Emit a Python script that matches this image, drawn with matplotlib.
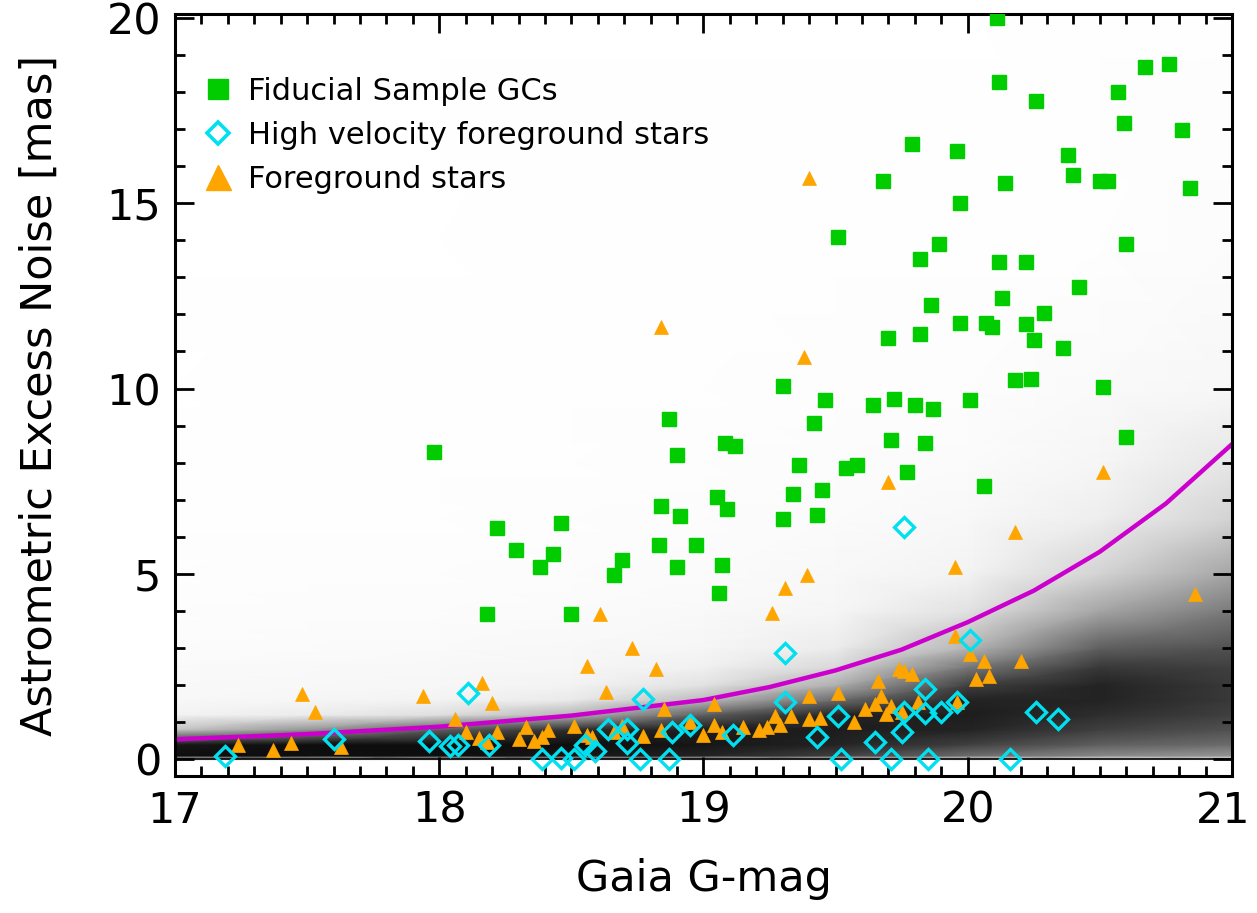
import numpy as np
import matplotlib.pyplot as plt
import matplotlib.transforms as mtransforms
from matplotlib.lines import Line2D

# Fiducial sample GCs (green squares)
gc_mag = [17.98, 18.18, 18.22, 18.29, 18.38, 18.43, 18.46, 18.50, 18.66, 18.69,
          18.83, 18.84, 18.87, 18.90, 18.91, 18.90, 18.97, 19.05, 19.06, 19.07,
          19.08, 19.12, 19.09, 19.30, 19.30, 19.34, 19.36, 19.42, 19.43, 19.45,
          19.46, 19.51, 19.54, 19.58, 19.64, 19.68, 19.70, 19.71, 19.72, 19.77,
          19.79, 19.80, 19.82, 19.82, 19.84, 19.86, 19.87, 19.89, 19.96, 19.97,
          19.97, 20.01, 20.06, 20.07, 20.09, 20.11, 20.12, 20.12, 20.13, 20.14,
          20.26, 20.22, 20.22, 20.25, 20.29, 20.18, 20.24, 20.36, 20.38, 20.40,
          20.42, 20.50, 20.53, 20.51, 20.57, 20.59, 20.60, 20.60, 20.67, 20.76,
          20.81, 20.84]
gc_noise = [8.28, 3.92, 6.24, 5.65, 5.19, 5.54, 6.37, 3.92, 4.97, 5.38,
            5.78, 6.83, 9.17, 8.20, 6.56, 5.20, 5.78, 7.07, 4.49, 5.24,
            8.53, 8.46, 6.75, 10.07, 6.47, 7.17, 7.95, 9.08, 6.60, 7.27,
            9.70, 14.10, 7.87, 7.95, 9.57, 15.60, 11.37, 8.60, 9.73, 7.76,
            16.60, 9.55, 13.50, 11.48, 8.53, 12.26, 9.45, 13.90, 16.40, 15.00,
            11.78, 9.70, 7.36, 11.78, 11.65, 20.00, 18.27, 13.40, 12.45, 15.55,
            17.76, 13.40, 11.75, 11.30, 12.05, 10.24, 10.27, 11.10, 16.30, 15.77,
            12.75, 15.60, 15.60, 10.05, 18.00, 17.17, 13.90, 8.70, 18.68, 18.76,
            16.98, 15.40]

# High velocity foreground stars (cyan diamonds)
hv_mag = [17.19, 17.60, 17.96, 18.04, 18.07, 18.11, 18.19, 18.39, 18.46, 18.51,
          18.55, 18.59, 18.64, 18.71, 18.71, 18.77, 18.76, 18.87, 18.88, 18.95,
          19.11, 19.31, 19.31, 19.43, 19.51, 19.52, 19.65, 19.71, 19.76, 19.75,
          19.76, 19.84, 19.84, 19.90, 19.96, 19.85, 20.01, 20.16, 20.26, 20.34]
hv_noise = [0.08, 0.54, 0.49, 0.35, 0.40, 1.78, 0.40, 0.00, 0.03, 0.00,
            0.38, 0.22, 0.81, 0.81, 0.43, 1.62, 0.00, 0.00, 0.73, 0.94,
            0.67, 1.54, 2.88, 0.59, 1.16, 0.00, 0.46, 0.00, 1.29, 0.75,
            6.28, 1.89, 1.24, 1.27, 1.54, 0.00, 3.23, 0.00, 1.29, 1.08]

# Foreground stars (orange triangles)
fg_mag = [19.40, 18.84, 19.38, 19.70, 20.51, 20.18, 19.95, 19.39, 19.31, 19.26,
          20.86, 18.61, 17.48, 17.53, 17.94, 18.16, 18.20, 18.73, 18.56, 18.82,
          18.63, 18.85, 19.04, 19.95, 20.01, 20.06, 20.20, 19.74, 19.79, 20.03,
          20.08, 19.66, 19.40, 19.51, 19.67, 19.61, 19.65, 19.71, 19.81, 19.69,
          19.57, 19.40, 19.44, 19.27, 19.29, 19.24, 19.75, 19.96, 19.76, 17.24,
          17.37, 17.44, 17.63, 18.06, 18.10, 18.15, 18.18, 18.22, 18.30, 18.33,
          18.36, 18.39, 18.41, 18.51, 18.56, 18.58, 18.66, 18.69, 18.77, 18.84,
          18.95, 19.00, 19.04, 19.07, 19.15, 19.21, 19.33]
fg_noise = [15.69, 11.67, 10.86, 7.47, 7.76, 6.12, 5.20, 4.96, 4.61, 3.96,
            4.47, 3.93, 1.75, 1.29, 1.70, 2.05, 1.51, 2.99, 2.51, 2.43,
            1.83, 1.35, 1.48, 3.32, 2.83, 2.64, 2.64, 2.43, 2.29, 2.16,
            2.24, 2.10, 1.70, 1.78, 1.70, 1.35, 1.48, 1.43, 1.54, 1.21,
            1.02, 1.08, 1.11, 1.16, 0.92, 0.86, 1.29, 1.56, 2.37, 0.38,
            0.24, 0.43, 0.32, 1.08, 0.73, 0.57, 0.46, 0.73, 0.54, 0.86,
            0.49, 0.59, 0.78, 0.89, 0.67, 0.59, 0.73, 0.89, 0.62, 0.78,
            1.02, 0.67, 0.94, 0.73, 0.86, 0.78, 1.16]

# Selection cut (magenta curve)
cut_mag = [17.0, 17.5, 18.0, 18.5, 19.0, 19.25, 19.5, 19.75, 20.0, 20.25, 20.5, 20.75, 21.0]
cut_noise = [0.54, 0.68, 0.88, 1.18, 1.60, 1.95, 2.40, 2.96, 3.70, 4.55, 5.60, 6.90, 8.50]

# Background Gaia sources: approximate density (darkness 0-1)
bg_mag = [17.0, 17.5, 18.0, 18.5, 19.0, 19.5, 20.0, 20.5, 21.0]
bg_noise = [-0.5, -0.03, 0.1, 0.4, 0.8, 1.2, 1.6, 2.0, 2.5, 3.0, 4.0, 5.0, 6.5, 8.0, 10.0, 14.0, 20.5]
bg_density = [
    [0, 0, 0, 0, 0, 0, 0, 0, 0],
    [0, 0, 0, 0, 0, 0, 0, 0, 0],
    [0.95, 0.95, 0.95, 0.92, 0.88, 0.80, 0.65, 0.55, 0.50],
    [0.92, 0.95, 0.95, 0.95, 0.92, 0.88, 0.80, 0.70, 0.65],
    [0.35, 0.50, 0.70, 0.85, 0.90, 0.90, 0.88, 0.80, 0.75],
    [0.10, 0.15, 0.22, 0.40, 0.70, 0.88, 0.90, 0.85, 0.80],
    [0.06, 0.08, 0.10, 0.16, 0.38, 0.65, 0.88, 0.88, 0.82],
    [0.05, 0.06, 0.07, 0.10, 0.20, 0.42, 0.80, 0.88, 0.82],
    [0.04, 0.05, 0.06, 0.07, 0.12, 0.25, 0.60, 0.82, 0.80],
    [0.03, 0.035, 0.045, 0.06, 0.08, 0.15, 0.40, 0.70, 0.75],
    [0.02, 0.025, 0.03, 0.035, 0.05, 0.08, 0.20, 0.45, 0.60],
    [0.015, 0.02, 0.02, 0.03, 0.035, 0.06, 0.10, 0.28, 0.45],
    [0.012, 0.015, 0.015, 0.02, 0.03, 0.035, 0.06, 0.14, 0.28],
    [0.01, 0.01, 0.012, 0.015, 0.02, 0.025, 0.035, 0.08, 0.18],
    [0.006, 0.008, 0.01, 0.01, 0.015, 0.02, 0.02, 0.04, 0.07],
    [0.004, 0.005, 0.006, 0.008, 0.01, 0.01, 0.012, 0.015, 0.025],
    [0.002, 0.003, 0.004, 0.005, 0.006, 0.006, 0.006, 0.01, 0.01],
]

green = '#00cc00'
cyan = '#00e0f0'
orange = '#ffa500'
magenta = '#cc00cc'

fig = plt.figure(figsize=(12.57, 9.13), dpi=100)
ax = fig.add_axes([0.1392, 0.150, 0.8409, 0.8346])

ax.pcolormesh(bg_mag, bg_noise, np.array(bg_density), shading='gouraud',
              cmap='Greys', vmin=0, vmax=1, zorder=0, rasterized=True)
ax.axhline(0, color='black', lw=1.2, zorder=1)
ax.plot(cut_mag, cut_noise, color=magenta, lw=3.2, zorder=2)

ax.plot(gc_mag, gc_noise, 's', color=green, ms=9.5, mec=green, zorder=3)
ax.plot(fg_mag, fg_noise, '^', color=orange, ms=9.5, mec=orange, mew=0.5, zorder=4)
ax.plot(hv_mag, hv_noise, 'D', mfc='none', mec=cyan, ms=10, mew=2.4, zorder=5)

ax.set_xlim(17, 21)
ax.set_ylim(-0.45, 20.1)
ax.set_xticks([17, 18, 19, 20, 21])
ax.set_yticks([0, 5, 10, 15, 20])
ax.set_xticks(np.arange(17, 21.01, 0.1), minor=True)
ax.set_yticks(np.arange(0, 20.1, 1), minor=True)
ax.tick_params(which='both', direction='in', top=True, right=True, width=2, colors='black')
ax.tick_params(which='major', length=14, labelsize=31, pad=10)
ax.tick_params(which='minor', length=7)
for sp in ax.spines.values():
    sp.set_linewidth(2.2)

# keep the last x tick label inside the figure
fig.canvas.draw()
last = ax.get_xticklabels()[-1]
last.set_transform(last.get_transform() + mtransforms.ScaledTranslation(-6 / 72, 0, fig.dpi_scale_trans))

ax.set_xlabel('Gaia G-mag', fontsize=31)
ax.set_ylabel('Astrometric Excess Noise [mas]', fontsize=31)
ax.xaxis.set_label_coords(0.5, -0.108)
ax.yaxis.set_label_coords(-0.108, 0.5)

handles = [
    Line2D([], [], ls='none', marker='s', color=green, ms=14),
    Line2D([], [], ls='none', marker='D', mfc='none', mec=cyan, ms=11.5, mew=2.6),
    Line2D([], [], ls='none', marker='^', color=orange, ms=18),
]
labels = ['Fiducial Sample GCs', 'High velocity foreground stars', 'Foreground stars']
ax.legend(handles, labels, loc='upper left', bbox_to_anchor=(0.015, 0.934),
          frameon=False, fontsize=22, handlelength=1.0, handletextpad=0.46,
          labelspacing=0.5, borderaxespad=0.0)

fig.savefig('out.png', dpi=100)
